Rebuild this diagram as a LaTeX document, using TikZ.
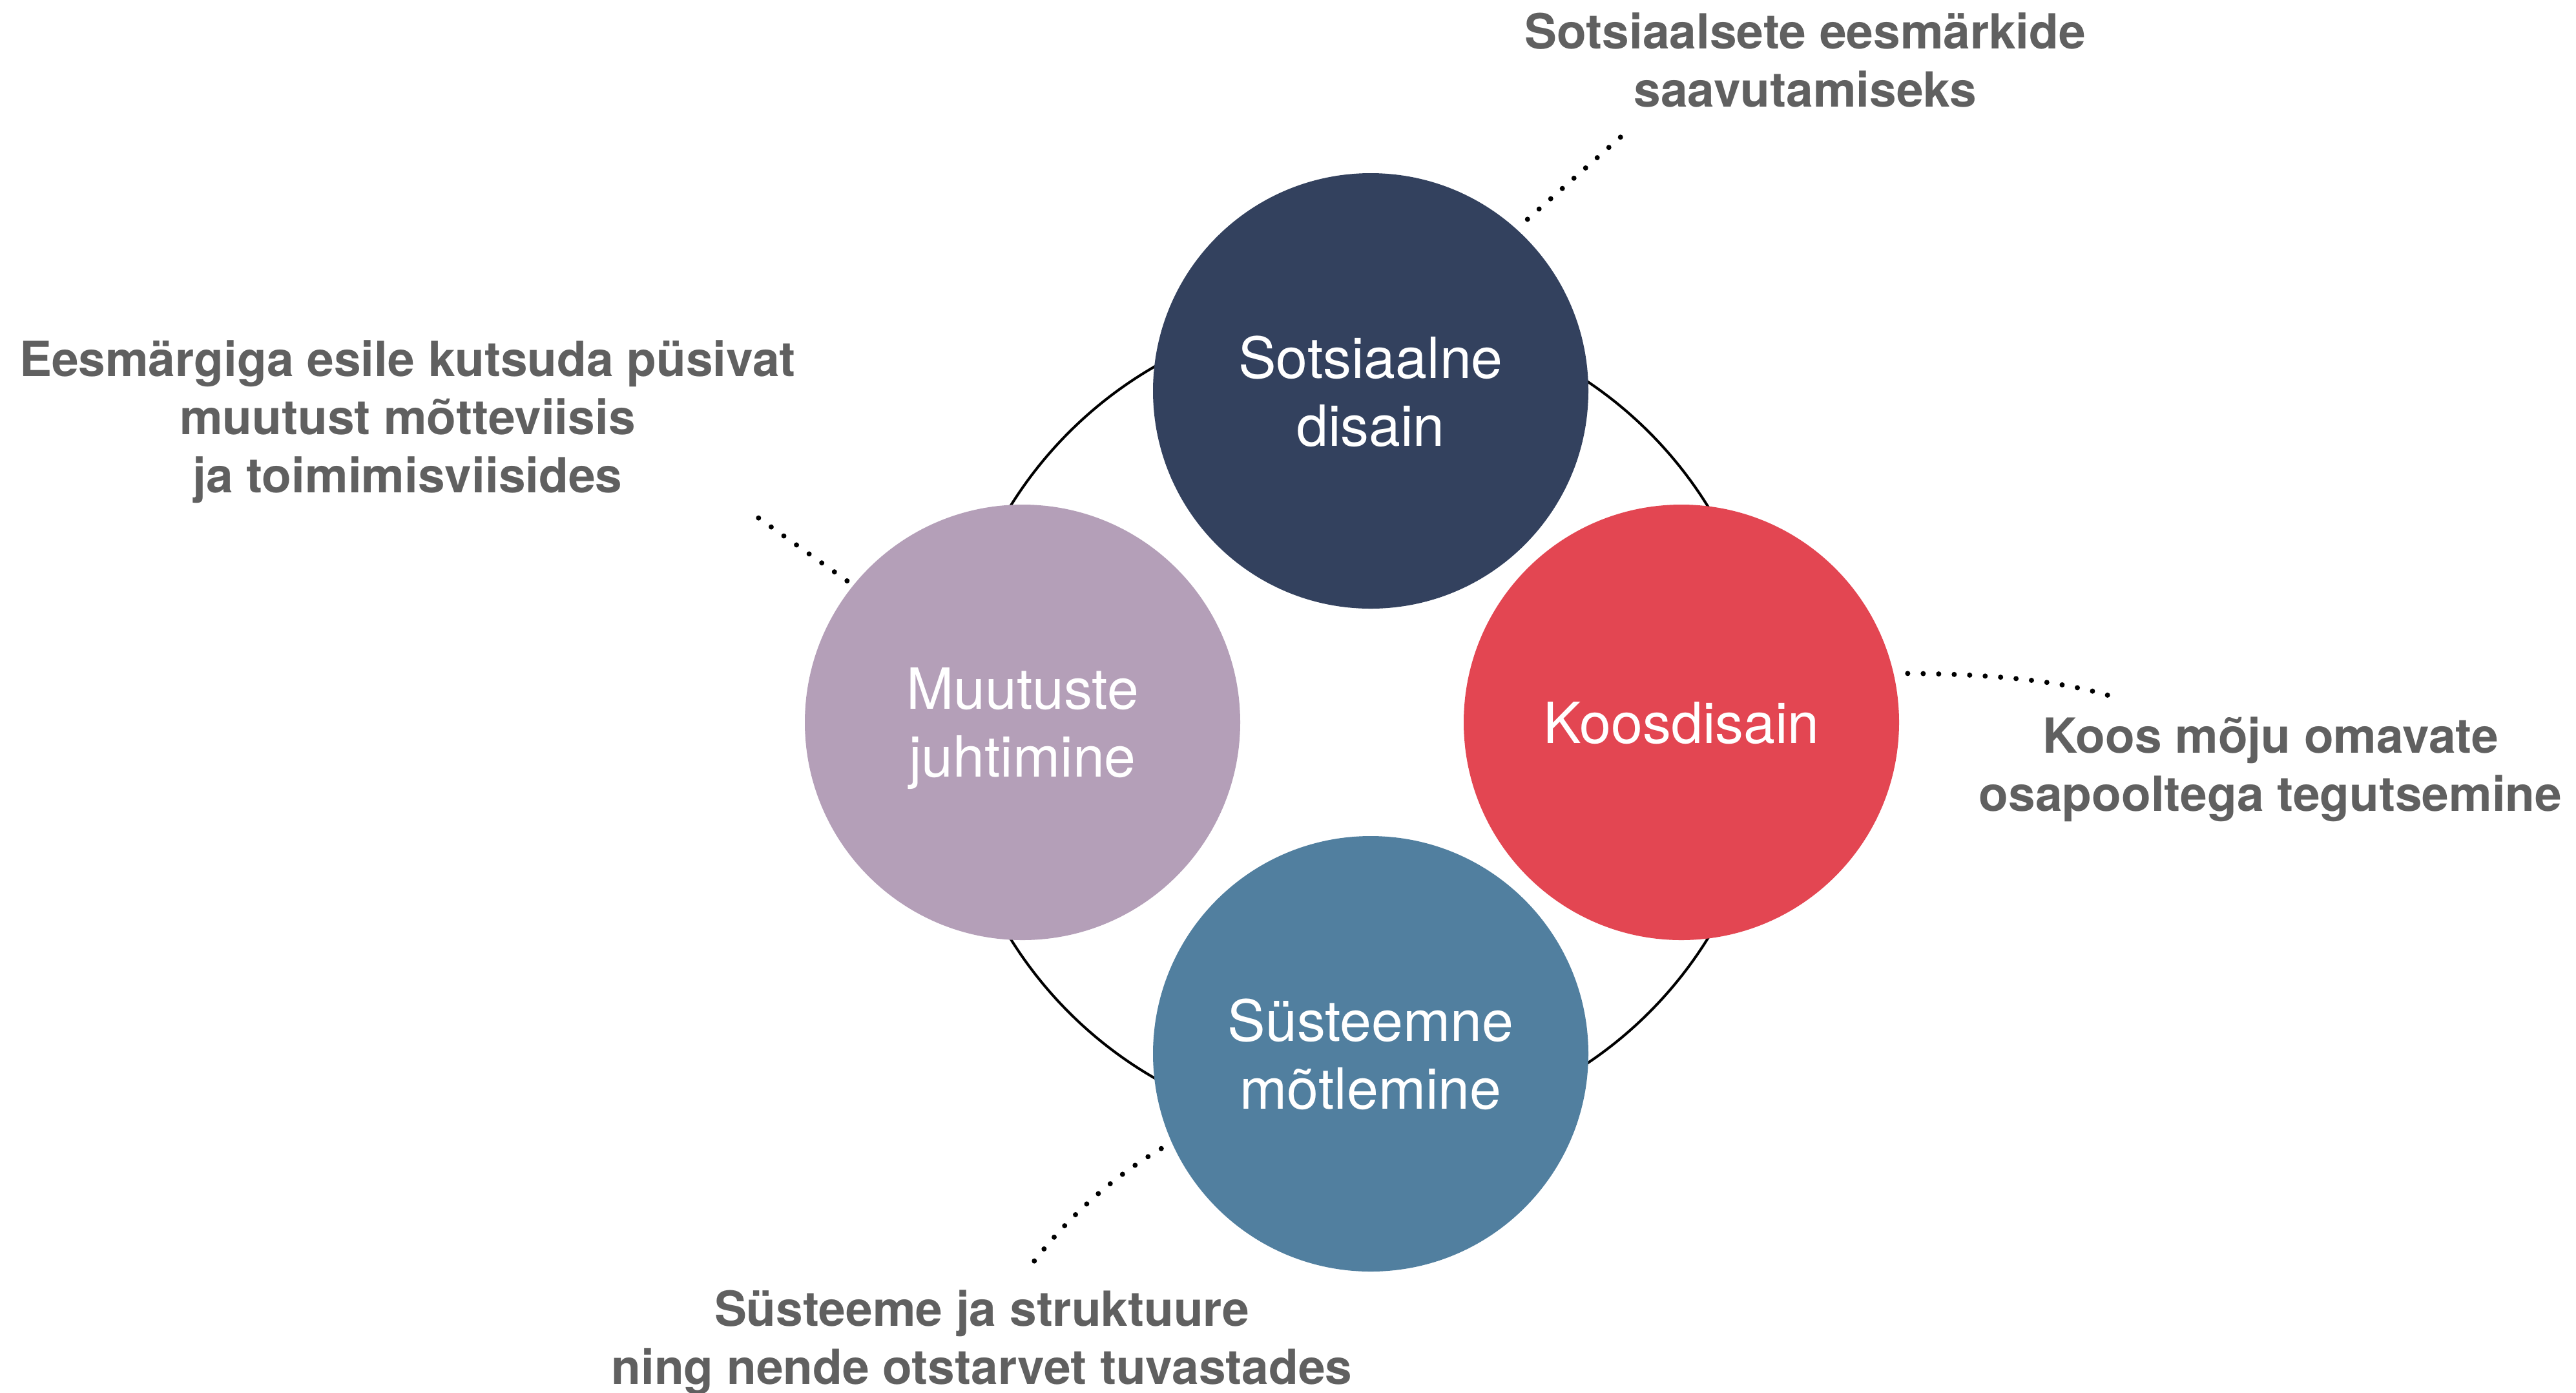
\documentclass[tikz,border=0pt]{standalone}
\usepackage{fontspec}
\setmainfont{TeX Gyre Heros}
\definecolor{navy}{RGB}{51,65,94}
\definecolor{coral}{RGB}{227,70,82}
\definecolor{steel}{RGB}{81,127,159}
\definecolor{lilac}{RGB}{180,159,184}
\definecolor{notegrey}{RGB}{96,96,96}
\begin{document}
\begin{tikzpicture}[
    blob/.style={circle, minimum size=6.74cm, inner sep=0pt, outer sep=0pt, text=white, text depth=0pt, align=center, font=\fontsize{25}{29.9}\selectfont},
    note/.style={anchor=base, align=center, text=notegrey, font=\fontsize{21.3}{25.6}\selectfont\bfseries},
    leader/.style={line width=0.08cm, line cap=round, dash pattern=on 0pt off 0.24cm}
]
    \useasboundingbox (0, 0) rectangle (39.88, -21.55);
    \coordinate (O) at (21.04, -11.18);
    \draw[line width=0.04cm] (O) circle (6.35);
    \node[blob, fill=navy] (SD) at (21.22, -6.05) {Sotsiaalne\\disain};
    \node[blob, fill=coral] (KD) at (26.03, -11.18) {Koosdisain};
    \node[blob, fill=steel] (SM) at (21.22, -16.31) {Süsteemne\\mõtlemine};
    \node[blob, fill=lilac] (MJ) at (15.83, -11.18) {Muutuste\\juhtimine};
    \node[note] (SD_note) at (27.95, -1.65) {Sotsiaalsete eesmärkide\\saavutamiseks};
    \node[note] (KD_note) at (35.15, -12.55) {Koos mõju omavate\\osapooltega tegutsemine};
    \node[note] (SM_note) at (15.20, -21.42) {Süsteeme ja struktuure\\ning nende otstarvet tuvastades};
    \node[note] (MJ_note) at (6.31, -7.62) {Eesmärgiga esile kutsuda püsivat\\muutust mõtteviisis\\ja toimimisviisides};
    \coordinate (SD_1) at (25.26, -1.97);
    \coordinate (KD_1) at (32.63, -10.76);
    \coordinate (SM_1) at (16.01, -19.52);
    \coordinate (MJ_1) at (11.72, -8.00);
    \draw[leader, shorten <=0.23cm] (SD.48) -- (SD_1);
    \draw[leader, shorten <=0.22cm] (KD.13) .. controls (30.85, -10.43) and (31.88, -10.54) .. (KD_1);
    \draw[leader, shorten <=0.19cm] (SM.204) .. controls (17.24, -18.21) and (16.58, -18.79) .. (SM_1);
    \draw[leader, shorten <=0.12cm] (MJ.141) -- (MJ_1);
\end{tikzpicture}
\end{document}
